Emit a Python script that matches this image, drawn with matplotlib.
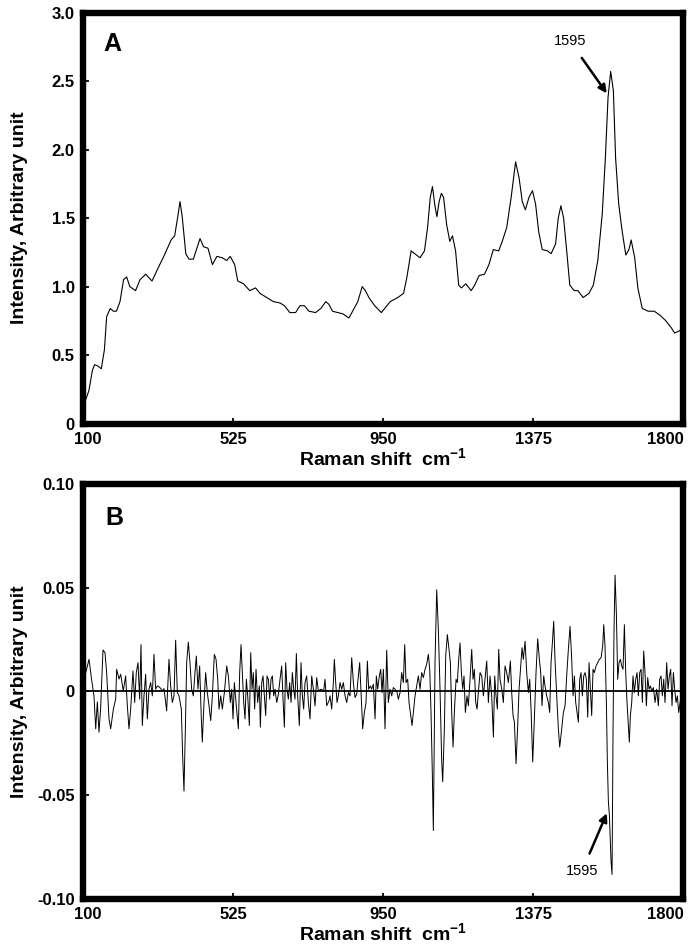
import matplotlib
matplotlib.use("Agg")
import matplotlib.pyplot as plt
from matplotlib.transforms import ScaledTranslation

plt.rcParams['font.family'] = ['Liberation Sans', 'DejaVu Sans']
plt.rcParams['mathtext.fontset'] = 'custom'
plt.rcParams['mathtext.bf'] = 'Liberation Sans:bold'
plt.rcParams['mathtext.rm'] = 'Liberation Sans:bold'
plt.rcParams['mathtext.default'] = 'bf'

# ---------------- Panel A: Raman spectrum ----------------
shift_a = [100, 116.7, 126.7, 133.0, 141.8, 151.9, 160.7, 167.0, 177.1, 186.0, 194.7, 204.8,
           214.9, 223.7, 232.5, 248.9, 261.5, 277.8, 295.5, 311.8, 330.7, 349.6, 359.7, 368.5,
           374.8, 381.1, 391.2, 400.0, 412.6, 421.4, 431.5, 441.5, 454.1, 466.7, 479.3, 494.5,
           507.0, 517.1, 529.7, 538.5, 554.9, 572.5, 588.9, 601.5, 620.4, 639.3, 658.2, 670.8,
           685.9, 702.2, 714.8, 727.4, 740.0, 758.9, 774.0, 787.9, 796.7, 806.8, 821.9, 837.0,
           853.4, 866.0, 878.5, 891.1, 900.0, 910.0, 926.4, 945.3, 957.9, 970.5, 991.9, 1008.2,
           1017.1, 1029.7, 1039.7, 1054.8, 1067.4, 1076.2, 1083.8, 1090.1, 1096.4, 1102.7, 1109.0,
           1115.3, 1121.6, 1130.4, 1139.2, 1146.8, 1155.6, 1164.4, 1172.0, 1184.5, 1199.7, 1209.7,
           1222.3, 1237.4, 1250.0, 1262.6, 1277.7, 1287.8, 1300.4, 1313.0, 1325.6, 1335.7, 1344.5,
           1353.3, 1363.4, 1373.4, 1382.3, 1391.1, 1401.1, 1416.3, 1426.3, 1438.9, 1446.5, 1454.0,
           1461.6, 1470.4, 1479.2, 1491.8, 1501.9, 1517.0, 1533.4, 1545.9, 1558.5, 1571.1, 1580.0,
           1587.5, 1595.0, 1602.6, 1608.9, 1617.8, 1627.8, 1637.9, 1646.8, 1653.0, 1663.1, 1671.9,
           1684.5, 1700.9, 1718.5, 1734.9, 1751.3, 1766.4, 1776.4, 1800]
intensity_a = [0.12, 0.24, 0.39, 0.43, 0.42, 0.40, 0.54, 0.78, 0.84, 0.82, 0.82, 0.89,
               1.05, 1.07, 1.00, 0.97, 1.05, 1.09, 1.04, 1.13, 1.23, 1.34, 1.37, 1.51,
               1.62, 1.51, 1.24, 1.20, 1.20, 1.27, 1.35, 1.29, 1.28, 1.16, 1.22, 1.21,
               1.19, 1.22, 1.16, 1.04, 1.02, 0.97, 0.99, 0.95, 0.92, 0.89, 0.88, 0.86,
               0.81, 0.81, 0.86, 0.86, 0.82, 0.81, 0.84, 0.89, 0.87, 0.82, 0.81, 0.80,
               0.77, 0.83, 0.89, 1.00, 0.97, 0.92, 0.86, 0.81, 0.85, 0.89, 0.92, 0.95,
               1.06, 1.26, 1.24, 1.21, 1.26, 1.43, 1.65, 1.73, 1.60, 1.51, 1.62,
               1.68, 1.65, 1.45, 1.33, 1.37, 1.26, 1.01, 0.99, 1.02, 0.97, 1.01,
               1.08, 1.09, 1.16, 1.27, 1.26, 1.33, 1.43, 1.65, 1.91, 1.79, 1.62,
               1.56, 1.65, 1.70, 1.60, 1.40, 1.27, 1.26, 1.24, 1.31, 1.50, 1.59,
               1.50, 1.26, 1.01, 0.97, 0.97, 0.92, 0.95, 1.01, 1.19, 1.53, 1.94,
               2.38, 2.57, 2.43, 1.94, 1.60, 1.40, 1.23, 1.27, 1.34, 1.21, 0.99,
               0.84, 0.82, 0.82, 0.79, 0.75, 0.70, 0.66, 0.69]

# ---------------- Panel B: difference / derivative spectrum ----------------
shift_b = [100, 105.6, 117, 123.6, 131, 136, 140.6, 145.3, 150, 156.6, 162.3, 167, 173.6, 178.4,
           186, 192.5, 195.4, 202, 206.7, 214.2, 220.8, 225.6, 230.3, 235, 241.6, 246.4, 251,
           255.8, 260.5, 264.3, 268, 272.8, 277.5, 282.2, 287, 291.7, 296.4, 301.1, 305.8, 310.6,
           318, 324.7, 329.5, 337, 343.6, 348.3, 353, 357.8, 362.5, 367.2, 372, 378.6, 382.3,
           386.1, 390, 393.7, 398.4, 403.1, 407.8, 412.6, 417.3, 421, 425.8, 430.5, 435.2, 438,
           442.8, 447.5, 452.2, 457, 461.8, 466.5, 472.1, 476.9, 481.6, 485.4, 490.1, 494.8,
           500.5, 507.1, 511.8, 517.5, 521.3, 525, 528.8, 533.5, 540.1, 543.9, 547.7, 551.5,
           555.3, 559, 562.8, 566.6, 571.3, 575.1, 578.9, 582.6, 586.4, 590.2, 594.9, 599.6,
           602.5, 606.3, 610, 613.8, 617.6, 621.4, 625.1, 628.9, 632.7, 636.5, 640.3, 644,
           648.8, 653.5, 658.2, 662.9, 666.7, 670.5, 674.2, 678, 681.8, 685.6, 689.4, 693.1,
           696.9, 700.7, 704.5, 708.2, 712.9, 717.7, 721.5, 725.2, 729, 733.7, 738.5, 743.2,
           747.9, 752.6, 757.4, 762.1, 766.8, 774.4, 781.9, 785.7, 790.4, 797, 799.9, 804.6,
           809.3, 812.1, 815.9, 819.7, 823.5, 828.2, 832.9, 837.6, 842.4, 847.1, 851.8, 856.5,
           861.3, 866, 870.7, 875.4, 880.1, 883.9, 887.7, 892.4, 897.1, 901.9, 905.6, 909.4,
           914.1, 917.9, 922.6, 927.4, 931.1, 934.9, 939.6, 943.4, 947.2, 951, 955.7, 960.4,
           965.1, 969.9, 974.6, 979.3, 984, 988.7, 993.5, 998.2, 1002.9, 1007.6, 1011.4, 1015.2,
           1019.9, 1023.7, 1028.4, 1032.2, 1036, 1040.7, 1045.4, 1050.1, 1054.9, 1059.6, 1064.3,
           1069, 1073.7, 1078.5, 1082.3, 1086, 1089.8, 1092.6, 1097.3, 1102.1, 1106.8, 1111.5,
           1116.3, 1119.1, 1123.8, 1127.6, 1132.3, 1137, 1140.8, 1144.6, 1148.4, 1152.1,
           1156.9, 1160.6, 1164.4, 1168.2, 1172, 1175.8, 1179.5, 1183.3, 1188, 1191.8, 1196.5,
           1201.3, 1205, 1208.8, 1212.6, 1216.4, 1220.1, 1224.9, 1229.6, 1234.3, 1239, 1243.8,
           1248.5, 1253.2, 1257.9, 1262.7, 1266.4, 1270.2, 1274, 1277.8, 1281.5, 1286.3, 1291,
           1295.7, 1300.4, 1305.2, 1310.8, 1314.6, 1318.4, 1322.2, 1326.9, 1331.6, 1335.4,
           1340.1, 1343.9, 1347.6, 1352.4, 1357.1, 1361.8, 1365.6, 1369.4, 1374.1, 1378.8,
           1383.5, 1388.2, 1393, 1396.8, 1400.5, 1405.3, 1409, 1413.7, 1418.5, 1422.2, 1426,
           1429.8, 1433.6, 1437.3, 1442.1, 1446.8, 1450.6, 1455.3, 1461, 1465.7, 1470.4, 1475.1,
           1479.9, 1484.6, 1488.4, 1492.1, 1495.9, 1499.7, 1503.5, 1507.3, 1511, 1514.8, 1518.6,
           1522.4, 1526.1, 1529.9, 1533.7, 1537.5, 1541.2, 1545, 1548.8, 1553.5, 1558.3, 1563,
           1567.7, 1572.4, 1575.3, 1579, 1582.8, 1585.6, 1588.5, 1591.3, 1596, 1598.9, 1601.7,
           1604.5, 1607.4, 1611.1, 1614.9, 1618.7, 1622.5, 1626.2, 1630, 1633.8, 1637.6, 1641.3,
           1645.1, 1647.9, 1650.8, 1654.6, 1658.3, 1662.1, 1665.9, 1669.7, 1673.4, 1677.2, 1681,
           1684.8, 1688.5, 1692.3, 1696.1, 1699.9, 1703.7, 1707.4, 1711.2, 1715.9, 1720.7,
           1725.4, 1730.1, 1733.9, 1737.7, 1741.4, 1745.2, 1749, 1753.7, 1757.5, 1761.3, 1765,
           1768.8, 1772.6, 1776.4, 1780.1, 1783.9, 1787.7, 1793, 1800]
intensity_b = [0.002, 0.0075, 0.0155, 0.0067, -0.002, -0.018, -0.005, -0.0196, -0.008, 0.020,
               0.0187, 0.009, -0.013, -0.018, -0.0085, -0.0037, 0.0107, 0.006, 0.0083, 0.0003,
               0.0075, -0.0069, -0.018, -0.0085, 0.0099, -0.0053, 0.0091, 0.0139, -0.0037,
               0.0226, -0.0164, -0.0021, 0.0083, -0.0132, 0.0011, 0.0043, -0.0021, 0.0179, 0.0011,
               0.0027, 0.0019, 0.0003, 0.0014, -0.0093, 0.0155, 0.0027, -0.0053, -0.0021, 0.0247,
               -0.0005, -0.0021, -0.0085, -0.031, -0.048, -0.018, 0.0139, 0.0238, 0.0139, 0.0011,
               -0.0021, 0.0091, 0.0171, 0.0011, 0.0123, -0.0132, -0.0244, -0.0053, 0.0091,
               -0.0005, -0.0069, -0.014, -0.0021, 0.0179, 0.0155, 0.0059, -0.0085, -0.0021,
               -0.0085, -0.0005, 0.0123, 0.0075, -0.0053, 0.0011, -0.0132, 0.0043, -0.0053,
               -0.018, 0.0091, 0.0226, 0.0091, -0.0053, -0.0132, 0.0059, -0.0021, -0.0164,
               0.0187, 0.0011, 0.0091, -0.0085, 0.0107, -0.0053, 0.0027, -0.0172, 0.0043, 0.0075,
               -0.0021, -0.0116, 0.0075, 0.0059, -0.0037, 0.0059, 0.0075, -0.0021, 0.0011,
               -0.0053, -0.0013, 0.0059, 0.0123, -0.0037, -0.0172, 0.0139, 0.0011, -0.0037,
               0.0043, -0.0053, 0.0091, 0.0011, -0.0037, 0.0183, -0.0021, -0.0164, 0.0139,
               -0.0021, -0.0085, 0.0043, 0.0075, -0.0053, -0.0132, 0.0075, 0.0011, -0.0069,
               0.0067, 0.0003, 0.0011, 0.0003, 0.0059, -0.0069, -0.0045, -0.0021, -0.0085,
               0.0043, 0.0155, 0.0043, -0.0053, -0.0021, 0.0043, 0.0011, 0.0043, -0.0021,
               -0.0053, -0.0005, -0.0021, 0.0163, 0.0043, -0.0029, -0.0013, 0.0075, 0.0139,
               -0.0005, -0.018, -0.0101, -0.0053, 0.0147, 0.0011, 0.0027, 0.0011, 0.0035,
               -0.0132, 0.0075, 0.0011, 0.0075, 0.0107, -0.0005, 0.0107, -0.018, 0.0199,
               -0.0053, 0.0011, -0.0021, 0.0019, 0.0011, 0.0003, -0.0037, -0.0005, 0.0091,
               0.0043, 0.0226, 0.0043, 0.0059, -0.0053, -0.0116, -0.0164, -0.0101, -0.0021,
               0.0027, 0.0075, 0.0011, 0.0091, 0.0067, 0.0107, 0.0131, 0.0179, 0.0107, -0.0101,
               -0.0403, -0.067, 0.0139, 0.049, 0.0298, 0.0011, -0.034, -0.0435, -0.018, 0.0171,
               0.0274, 0.0203, 0.0139, -0.0101, -0.0268, -0.0101, 0.0059, 0.0043, 0.0155,
               0.0234, 0.0091, 0.0011, 0.0075, -0.0101, -0.0021, -0.0069, 0.0059, 0.0203,
               0.0059, 0.0107, -0.0053, -0.0085, -0.0005, 0.0091, 0.0075, -0.0021, 0.0059,
               0.0147, -0.0053, 0.0075, -0.0021, -0.022, 0.0075, -0.0021, -0.0085, 0.0203,
               0.0059, 0.0011, -0.0053, 0.0123, 0.0091, 0.0043, 0.0147, -0.0005, -0.0116,
               -0.0148, -0.0348, -0.0164, 0.0011, 0.0123, 0.0211, 0.0155, 0.0242, 0.0091,
               -0.0005, 0.0059, -0.0085, -0.034, -0.0132, 0.0091, 0.0254, 0.0155, 0.0091,
               -0.0069, 0.0075, 0.0027, -0.0021, -0.0053, -0.0101, 0.0139, 0.0234, 0.0338,
               0.0155, -0.0021, -0.018, -0.0268, -0.0196, -0.0101, -0.0069, 0.0075, 0.0203,
               0.0314, 0.0155, -0.0021, 0.0075, -0.0053, -0.0101, -0.0148, 0.0059, 0.0091,
               -0.0021, 0.0075, 0.0091, 0.0059, -0.0124, 0.0139, 0.0011, -0.0116, 0.0107,
               0.0091, 0.0123, 0.0139, 0.0155, 0.0163, 0.0219, 0.0322, 0.0219, -0.0053, -0.034,
               -0.0531, -0.0595, -0.0818, -0.0882, -0.018, 0.0298, 0.0561, 0.0378, 0.0059,
               0.0139, 0.0155, 0.0123, 0.0107, 0.0322, 0.0091, -0.0053, -0.0164, -0.0244,
               -0.0116, -0.0053, 0.0075, -0.0005, 0.0059, 0.0091, -0.0021, 0.0091, 0.0107,
               -0.0053, 0.0195, 0.0091, -0.0069, 0.0067, 0.0011, 0.0027, 0.0003, 0.0019,
               -0.0053, 0.0011, -0.0069, 0.0059, 0.0075, -0.0021, 0.0059, -0.0053, 0.0139,
               0.0011, 0.0075, 0.0107, -0.0069, 0.0091, 0.0011, -0.0053, -0.0021, -0.0101,
               -0.004, -0.012]

x_ticks = [100, 525, 950, 1375, 1800]
x_ticklabels = ['100', '525', '950', '1375', '1800']
ya_ticks = [0, 0.5, 1.0, 1.5, 2.0, 2.5, 3.0]
ya_ticklabels = ['0', '0.5', '1.0', '1.5', '2.0', '2.5', '3.0']
yb_ticks = [-0.10, -0.05, 0, 0.05, 0.10]
yb_ticklabels = ['-0.10', '-0.05', '0', '0.05', '0.10']

xlabel = r'Raman shift  cm$^{-1}$'
ylabel = 'Intensity, Arbitrary unit'

fig = plt.figure(figsize=(6.94, 9.49), dpi=100)
axA = fig.add_axes([0.1196, 0.5537, 0.8646, 0.4331])
axB = fig.add_axes([0.1196, 0.0527, 0.8646, 0.4373])


def style(ax, yt, ytl):
    ax.set_xlim(100, 1800)
    ax.set_xticks(x_ticks)
    ax.set_xticklabels(x_ticklabels)
    ax.set_yticks(yt)
    ax.set_yticklabels(ytl)
    for s in ax.spines.values():
        s.set_linewidth(4.6)
        s.set_color('black')
    ax.tick_params(direction='in', length=4, width=1.3, pad=6, labelsize=12)
    xl = ax.get_xticklabels()
    for lab in xl + ax.get_yticklabels():
        lab.set_fontweight('bold')
    # end labels sit inside the frame width, as in the original
    xl[0].set_transform(xl[0].get_transform() +
                        ScaledTranslation(5 / 100, 0, fig.dpi_scale_trans))
    xl[-1].set_horizontalalignment('right')
    xl[-1].set_transform(xl[-1].get_transform() +
                         ScaledTranslation(1 / 100, 0, fig.dpi_scale_trans))
    ax.set_xlabel(xlabel, fontsize=14, fontweight='bold', labelpad=0)
    ax.set_ylabel(ylabel, fontsize=14, fontweight='bold')
    ax.yaxis.set_label_coords(-0.106, 0.5)
    ax.yaxis.label.set_verticalalignment('center')


axA.plot(shift_a, intensity_a, color='black', linewidth=0.8)
axA.set_ylim(0, 3.0)
style(axA, ya_ticks, ya_ticklabels)
axA.text(182, 2.77, 'A', fontsize=18, fontweight='bold', ha='center', va='center')
axA.annotate('1595', xy=(1584, 2.41), xytext=(1480, 2.79), fontsize=10.5,
             ha='center', va='center',
             arrowprops=dict(arrowstyle='-|>', color='black', lw=1.8,
                             mutation_scale=12, shrinkA=6, shrinkB=0))

axB.plot(shift_b, intensity_b, color='black', linewidth=0.7)
axB.axhline(0, color='black', linewidth=1.3)
axB.set_ylim(-0.10, 0.10)
style(axB, yb_ticks, yb_ticklabels)
axB.text(188, 0.0837, 'B', fontsize=18, fontweight='bold', ha='center', va='center')
axB.annotate('1595', xy=(1584, -0.0587), xytext=(1514, -0.0865), fontsize=10.5,
             ha='center', va='center',
             arrowprops=dict(arrowstyle='-|>', color='black', lw=1.8,
                             mutation_scale=12, shrinkA=6, shrinkB=0))

fig.savefig('out.png', dpi=100)
